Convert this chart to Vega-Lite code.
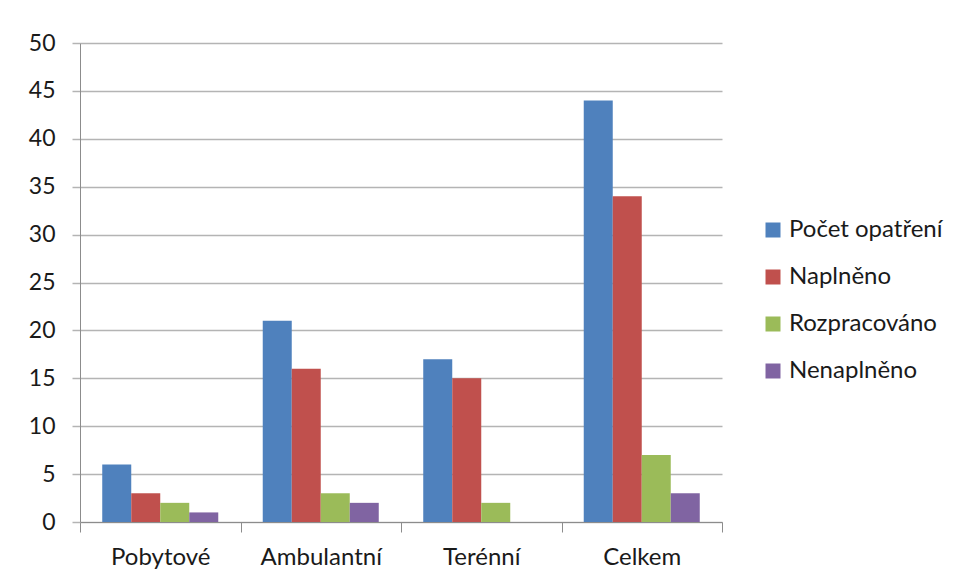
{
  "$schema": "https://vega.github.io/schema/vega-lite/v6.json",
  "width": 642,
  "height": 479,
  "autosize": "none",
  "padding": {"left": 80, "top": 43, "right": 240, "bottom": 58},
  "background": "white",
  "data": {
    "values": [
      {"kategorie": "Pobytové", "serie": "Počet opatření", "hodnota": 6},
      {"kategorie": "Pobytové", "serie": "Naplněno", "hodnota": 3},
      {"kategorie": "Pobytové", "serie": "Rozpracováno", "hodnota": 2},
      {"kategorie": "Pobytové", "serie": "Nenaplněno", "hodnota": 1},
      {"kategorie": "Ambulantní", "serie": "Počet opatření", "hodnota": 21},
      {"kategorie": "Ambulantní", "serie": "Naplněno", "hodnota": 16},
      {"kategorie": "Ambulantní", "serie": "Rozpracováno", "hodnota": 3},
      {"kategorie": "Ambulantní", "serie": "Nenaplněno", "hodnota": 2},
      {"kategorie": "Terénní", "serie": "Počet opatření", "hodnota": 17},
      {"kategorie": "Terénní", "serie": "Naplněno", "hodnota": 15},
      {"kategorie": "Terénní", "serie": "Rozpracováno", "hodnota": 2},
      {"kategorie": "Terénní", "serie": "Nenaplněno", "hodnota": 0},
      {"kategorie": "Celkem", "serie": "Počet opatření", "hodnota": 44},
      {"kategorie": "Celkem", "serie": "Naplněno", "hodnota": 34},
      {"kategorie": "Celkem", "serie": "Rozpracováno", "hodnota": 7},
      {"kategorie": "Celkem", "serie": "Nenaplněno", "hodnota": 3}
    ]
  },
  "mark": {"type": "bar", "stroke": null},
  "encoding": {
    "x": {
      "field": "kategorie",
      "type": "nominal",
      "sort": ["Pobytové", "Ambulantní", "Terénní", "Celkem"],
      "scale": {"paddingInner": 0, "paddingOuter": 0},
      "axis": {
        "title": null,
        "labelAngle": 0,
        "tickBand": "extent",
        "grid": false,
        "domainColor": "#8c8c8c",
        "tickColor": "#8c8c8c",
        "tickSize": 10,
        "labelPadding": 13,
        "labelFont": "Lato",
        "labelFontSize": 24,
        "labelColor": "#1a1a1a"
      }
    },
    "xOffset": {
      "field": "serie",
      "type": "nominal",
      "sort": ["Počet opatření", "Naplněno", "Rozpracováno", "Nenaplněno"],
      "scale": {"paddingInner": 0, "paddingOuter": 0.767}
    },
    "y": {
      "field": "hodnota",
      "type": "quantitative",
      "scale": {"domain": [0, 50], "nice": false},
      "axis": {
        "title": null,
        "values": [0, 5, 10, 15, 20, 25, 30, 35, 40, 45, 50],
        "gridColor": "#b4b4b4",
        "gridWidth": 1.5,
        "tickColor": "#b4b4b4",
        "tickWidth": 1.5,
        "tickSize": 8,
        "domainColor": "#8c8c8c",
        "labelPadding": 17,
        "labelFont": "Lato",
        "labelFontSize": 23,
        "labelColor": "#1a1a1a"
      }
    },
    "color": {
      "field": "serie",
      "type": "nominal",
      "sort": ["Počet opatření", "Naplněno", "Rozpracováno", "Nenaplněno"],
      "scale": {
        "domain": ["Počet opatření", "Naplněno", "Rozpracováno", "Nenaplněno"],
        "range": ["#4f81bd", "#c0504d", "#9bbb59", "#8064a2"]
      },
      "legend": {
        "title": null,
        "orient": "none",
        "legendX": 681,
        "legendY": 175,
        "symbolType": "square",
        "symbolSize": 225,
        "symbolStrokeWidth": 0,
        "labelOffset": 4,
        "labelFont": "Lato",
        "labelFontSize": 24,
        "labelColor": "#1a1a1a",
        "rowPadding": 23
      }
    }
  },
  "config": {
    "view": {"stroke": null}
  }
}
